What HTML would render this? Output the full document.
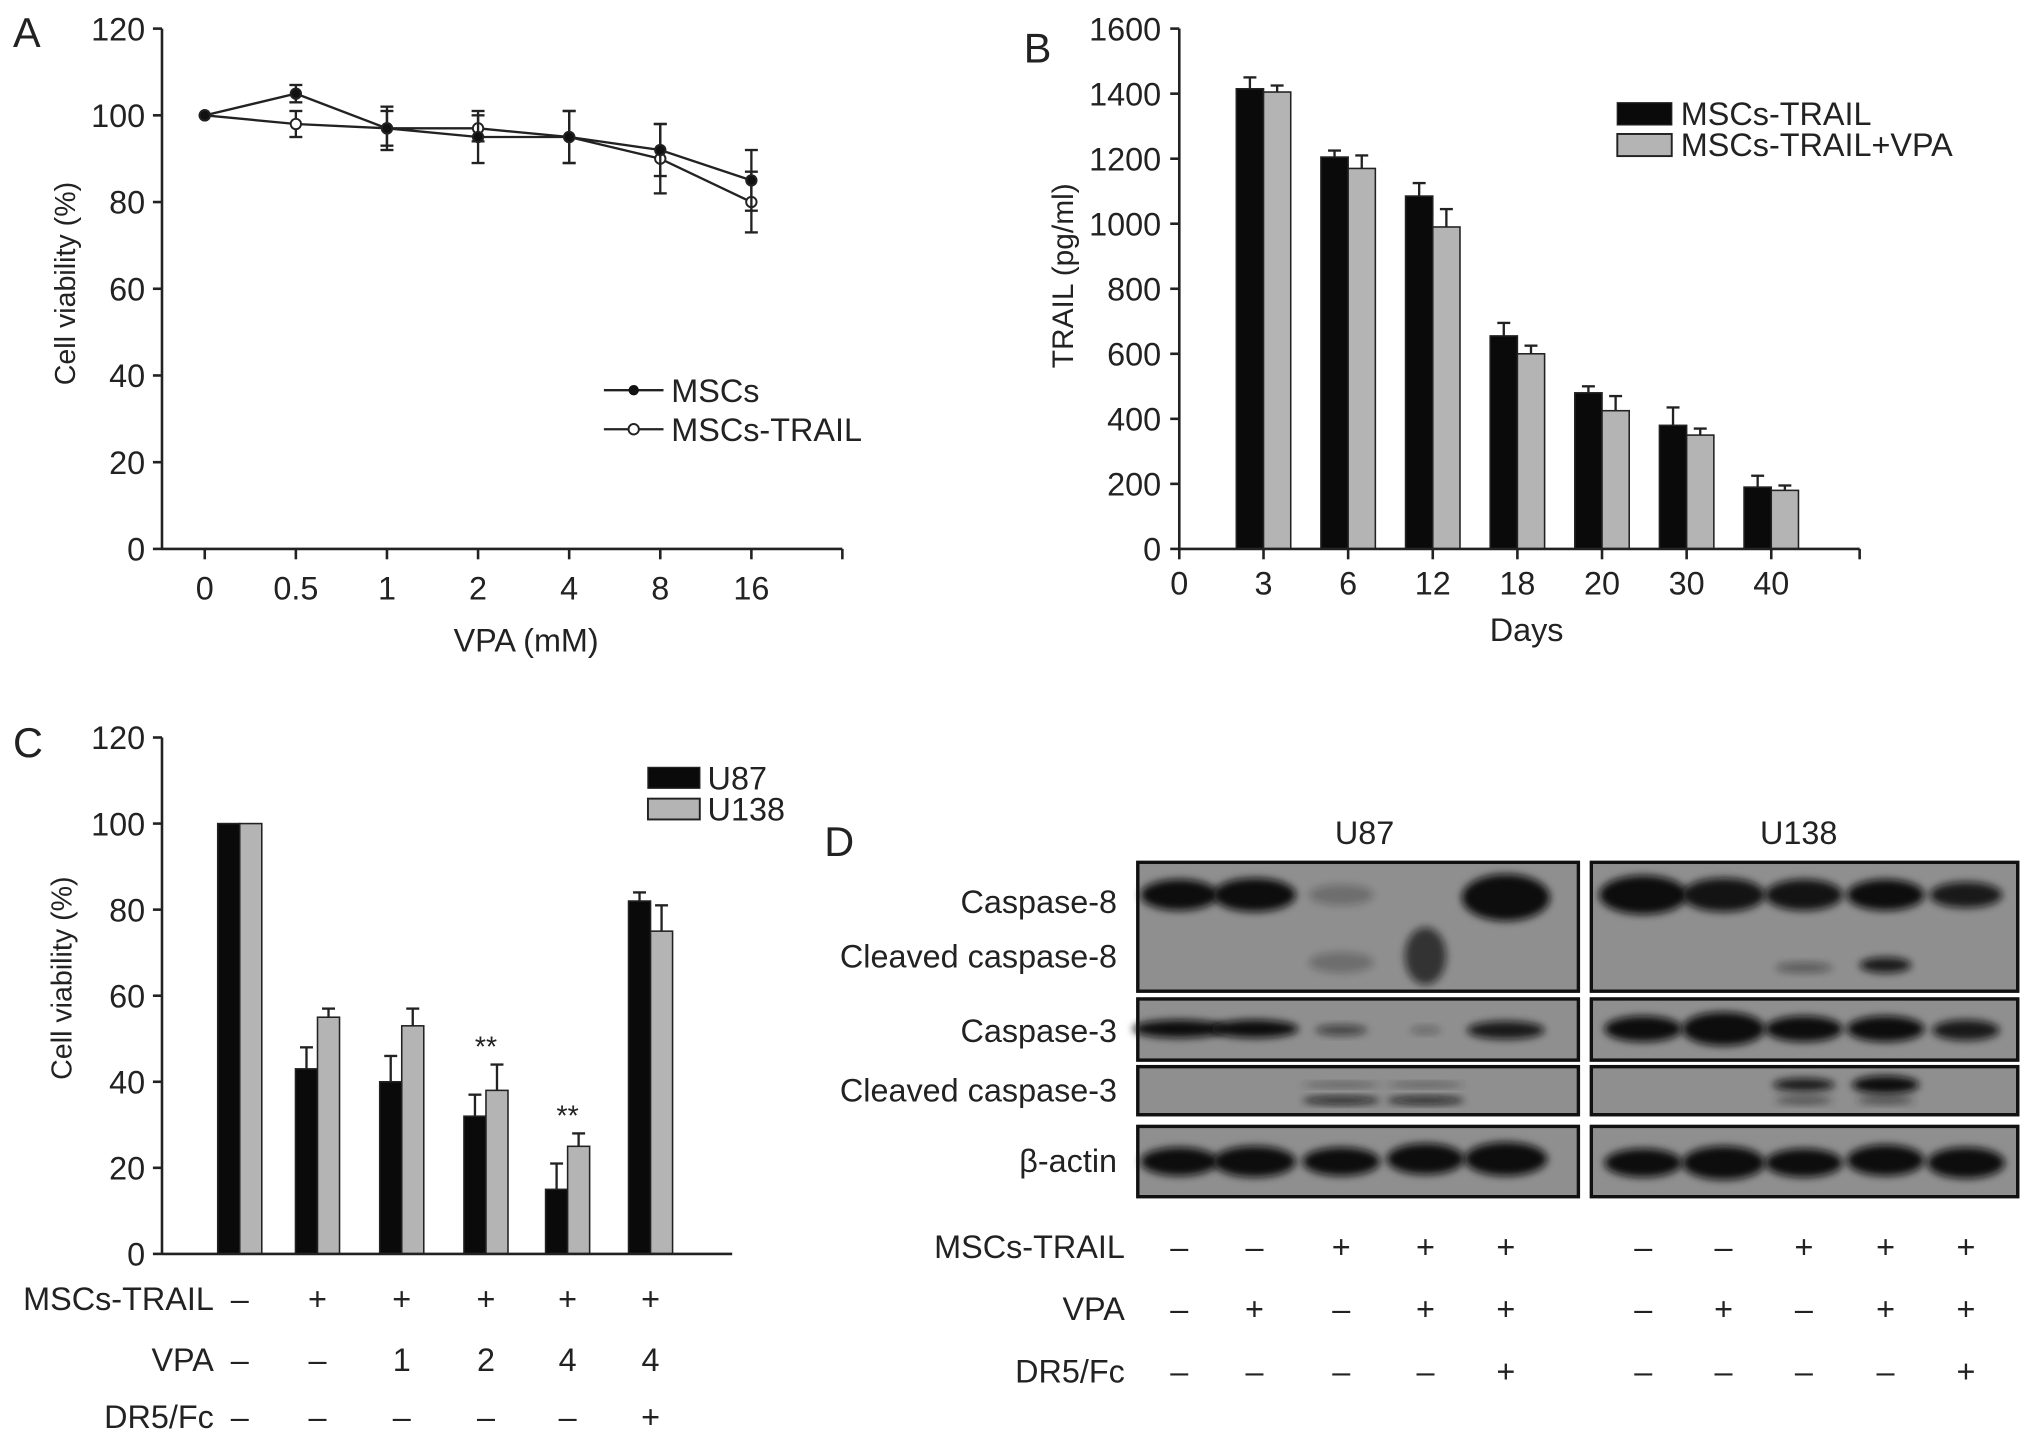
<!DOCTYPE html>
<html><head><meta charset="utf-8"><style>
html,body{margin:0;padding:0;background:#fff;}
svg{display:block;font-family:"Liberation Sans",sans-serif;}
text{fill:#222;}
</style></head><body>
<svg id="fig" width="2032" height="1436" viewBox="0 0 1568 1104" preserveAspectRatio="none" xmlns="http://www.w3.org/2000/svg">
<defs>
<filter id="blur" x="-20%" y="-50%" width="140%" height="200%"><feGaussianBlur stdDeviation="3"/></filter>
</defs>
<g id="A"></g>
<g id="B"></g>
<g id="C"></g>
<g id="D"></g>
</svg>
<script>
// Panel A data
const aCategories = ["0","0.5","1","2","4","8","16"];
const aMSCs = [100,105,97,95,95,92,85];
const aMSCsErr = [0,2,5,6,6,6,7];
const aTRAIL = [100,98,97,97,95,90,80];
const aTRAILErr = [0,3,4,3,6,8,7];
const aYTicks = [0,20,40,60,80,100,120];
// Panel B data
const bCategories = ["3","6","12","18","20","30","40"];
const bTrail = [1415,1205,1085,655,480,380,190];
const bTrailErr = [35,20,40,40,20,55,35];
const bVPA = [1405,1170,990,600,425,350,180];
const bVPAErr = [20,40,55,25,45,20,15];
const bYTicks = [0,200,400,600,800,1000,1200,1400,1600];
// Panel C data
const cU87 = [100,43,40,32,15,82];
const cU87Err = [0,5,6,5,6,2];
const cU138 = [100,55,53,38,25,75];
const cU138Err = [0,2,4,6,3,6];
const cYTicks = [0,20,40,60,80,100,120];
const cTrail = ["–","+","+","+","+","+"];
const cVPA = ["–","–","1","2","4","4"];
const cDR5 = ["–","–","–","–","–","+"];
const cStars = ["","","","**","**",""];
// Panel D labels
const dTrail = ["–","–","+","+","+"];
const dVPA = ["–","+","–","+","+"];
const dDR5 = ["–","–","–","–","+"];

const FS=25;
const NS="http://www.w3.org/2000/svg";
function el(parent,tag,attrs,text){const e=document.createElementNS(NS,tag);for(const k in attrs)e.setAttribute(k,attrs[k]);if(text!==undefined)e.textContent=text;parent.appendChild(e);return e;}

// ---------- Panel A ----------
(function(){
const g=document.getElementById('A');
const x0=125,x1=650,y0=422,y1=22;
const ys=v=>y0-(v/120)*(y0-y1);
const xs=i=>158+i*70.3;
let t=el(g,'text',{x:10,y:36,'font-size':32});t.textContent='A';

el(g,'line',{x1:x0,y1:y1,x2:x0,y2:y0,stroke:'#222','stroke-width':2});
el(g,'line',{x1:x0,y1:y0,x2:x1,y2:y0,stroke:'#222','stroke-width':2});
el(g,'line',{x1:x1,y1:y0,x2:x1,y2:y0+8,stroke:'#222','stroke-width':2});
aYTicks.forEach(v=>{el(g,'line',{x1:x0-7,y1:ys(v),x2:x0,y2:ys(v),stroke:'#222','stroke-width':2});
 const l=el(g,'text',{x:112,y:ys(v)+9,'font-size':FS,'text-anchor':'end'},v);
 });
aCategories.forEach((c,i)=>{el(g,'line',{x1:xs(i),y1:y0,x2:xs(i),y2:y0+8,stroke:'#222','stroke-width':2});
 const l=el(g,'text',{x:xs(i),y:461,'font-size':FS,'text-anchor':'middle'},c);
 });
let xt=el(g,'text',{x:406,y:501,'font-size':FS,'text-anchor':'middle'},'VPA (mM)');

let yt=el(g,'text',{x:0,y:0,'font-size':22,'text-anchor':'middle',transform:'translate(58,218) rotate(-90)'},'Cell viability (%)');

function series(vals,errs,filled,name){
 const s=el(g,'g',{});
 el(s,'polyline',{points:vals.map((v,i)=>xs(i)+','+ys(v)).join(' '),fill:'none',stroke:'#222','stroke-width':1.8});
 vals.forEach((v,i)=>{const e=errs[i];if(e>0){el(s,'line',{x1:xs(i),y1:ys(v-e),x2:xs(i),y2:ys(v+e),stroke:'#222','stroke-width':1.8});
  [v-e,v+e].forEach(w=>el(s,'line',{x1:xs(i)-5,y1:ys(w),x2:xs(i)+5,y2:ys(w),stroke:'#222','stroke-width':1.8}));}
  const p=el(s,'circle',{cx:xs(i),cy:ys(v),r:4,fill:filled?'#111':'#fff',stroke:'#222','stroke-width':1.5});
  });
}
series(aTRAIL,aTRAILErr,false,'series-mscs-trail');
series(aMSCs,aMSCsErr,true,'series-mscs');
const lg=el(g,'g',{});
el(lg,'line',{x1:466,y1:300,x2:512,y2:300,stroke:'#222','stroke-width':1.8});
el(lg,'circle',{cx:489,cy:300,r:4,fill:'#111'});
el(lg,'text',{x:518,y:309,'font-size':FS},'MSCs');
el(lg,'line',{x1:466,y1:330,x2:512,y2:330,stroke:'#222','stroke-width':1.8});
el(lg,'circle',{cx:489,cy:330,r:4,fill:'#fff',stroke:'#222','stroke-width':1.5});
el(lg,'text',{x:518,y:339,'font-size':FS},'MSCs-TRAIL');
})();

// ---------- Panel B ----------
(function(){
const g=document.getElementById('B');
const x0=910,x1=1435,y0=422,y1=22;
const ys=v=>y0-(v/1600)*(y0-y1);
const xs=i=>975+i*65.3;
const bw=21;
let t=el(g,'text',{x:790,y:48,'font-size':32},'B');

el(g,'line',{x1:x0,y1:y1,x2:x0,y2:y0,stroke:'#222','stroke-width':2});
bYTicks.forEach(v=>{el(g,'line',{x1:x0-7,y1:ys(v),x2:x0,y2:ys(v),stroke:'#222','stroke-width':2});
 const l=el(g,'text',{x:896,y:ys(v)+9,'font-size':FS,'text-anchor':'end'},v);
 });
const l0=el(g,'text',{x:x0,y:457,'font-size':FS,'text-anchor':'middle'},'0');

el(g,'line',{x1:x0,y1:y0,x2:x0,y2:y0+8,stroke:'#222','stroke-width':2});
el(g,'line',{x1:x1,y1:y0,x2:x1,y2:y0+8,stroke:'#222','stroke-width':2});
function bars(vals,errs,off,fill,name){
 vals.forEach((v,i)=>{const x=xs(i)+off;
  const r=el(g,'rect',{x:x,y:ys(v),width:bw,height:y0-ys(v),fill:fill,stroke:'#222','stroke-width':1.2});
  
  const cx=x+bw/2;el(g,'line',{x1:cx,y1:ys(v),x2:cx,y2:ys(v+errs[i]),stroke:'#222','stroke-width':1.8});
  el(g,'line',{x1:cx-5,y1:ys(v+errs[i]),x2:cx+5,y2:ys(v+errs[i]),stroke:'#222','stroke-width':1.8});});
}
bars(bTrail,bTrailErr,-bw,'#0a0a0a','bar-mscs-trail');
bars(bVPA,bVPAErr,0,'#b4b4b4','bar-mscs-trail-vpa');
el(g,'line',{x1:x0,y1:y0,x2:x1,y2:y0,stroke:'#222','stroke-width':2});
bCategories.forEach((c,i)=>{el(g,'line',{x1:xs(i),y1:y0,x2:xs(i),y2:y0+8,stroke:'#222','stroke-width':2});
 const l=el(g,'text',{x:xs(i),y:457,'font-size':FS,'text-anchor':'middle'},c);
 });
let xt=el(g,'text',{x:1178,y:493,'font-size':FS,'text-anchor':'middle'},'Days');

let yt=el(g,'text',{x:0,y:0,'font-size':23,'text-anchor':'middle',transform:'translate(828,212) rotate(-90)'},'TRAIL (pg/ml)');

const lg=el(g,'g',{});
el(lg,'rect',{x:1248,y:79,width:42,height:17,fill:'#0a0a0a',stroke:'#222'});
el(lg,'text',{x:1297,y:96,'font-size':FS},'MSCs-TRAIL');
el(lg,'rect',{x:1248,y:103,width:42,height:17,fill:'#b4b4b4',stroke:'#222','stroke-width':1.5});
el(lg,'text',{x:1297,y:120,'font-size':FS},'MSCs-TRAIL+VPA');
})();

// ---------- Panel C ----------
(function(){
const g=document.getElementById('C');
const x0=125,x1=565,y0=964,y1=567;
const ys=v=>y0-(v/120)*(y0-y1);
const xs=i=>[185,245,310,375,438,502][i];
const bw=17;
let t=el(g,'text',{x:10,y:582,'font-size':32},'C');

el(g,'line',{x1:x0,y1:y1,x2:x0,y2:y0,stroke:'#222','stroke-width':2});
cYTicks.forEach(v=>{el(g,'line',{x1:x0-7,y1:ys(v),x2:x0,y2:ys(v),stroke:'#222','stroke-width':2});
 const l=el(g,'text',{x:112,y:ys(v)+9,'font-size':FS,'text-anchor':'end'},v);
 });
function bars(vals,errs,off,fill,name){
 vals.forEach((v,i)=>{const x=xs(i)+off;
  const r=el(g,'rect',{x:x,y:ys(v),width:bw,height:y0-ys(v),fill:fill,stroke:'#222','stroke-width':1.2});
  
  if(errs[i]>0){const cx=x+bw/2;el(g,'line',{x1:cx,y1:ys(v),x2:cx,y2:ys(v+errs[i]),stroke:'#222','stroke-width':1.8});
  el(g,'line',{x1:cx-5,y1:ys(v+errs[i]),x2:cx+5,y2:ys(v+errs[i]),stroke:'#222','stroke-width':1.8});}});
}
bars(cU87,cU87Err,-bw,'#0a0a0a','bar-u87');
bars(cU138,cU138Err,0,'#b4b4b4','bar-u138');
el(g,'line',{x1:x0,y1:y0,x2:x1,y2:y0,stroke:'#222','stroke-width':2});
cStars.forEach((s,i)=>{if(s){const v=Math.max(cU87[i]+cU87Err[i],cU138[i]+cU138Err[i]);
 const l=el(g,'text',{x:xs(i),y:ys(v)-6,'font-size':22,'text-anchor':'middle'},s);
 }});
let yt=el(g,'text',{x:0,y:0,'font-size':22,'text-anchor':'middle',transform:'translate(55,752) rotate(-90)'},'Cell viability (%)');

const lg=el(g,'g',{});
el(lg,'rect',{x:500,y:590,width:40,height:16,fill:'#0a0a0a',stroke:'#222'});
el(lg,'text',{x:546,y:607,'font-size':FS},'U87');
el(lg,'rect',{x:500,y:614,width:40,height:16,fill:'#b4b4b4',stroke:'#222','stroke-width':1.5});
el(lg,'text',{x:546,y:631,'font-size':FS},'U138');
const rows=[['MSCs-TRAIL',cTrail,1007],['VPA',cVPA,1054],['DR5/Fc',cDR5,1098]];
rows.forEach(([lab,arr,y])=>{
 const l=el(g,'text',{x:165,y:y,'font-size':FS,'text-anchor':'end'},lab);
 
 arr.forEach((s,i)=>{const c=el(g,'text',{x:xs(i),y:y,'font-size':FS,'text-anchor':'middle'},s);
  });});
})();

// ---------- Panel D ----------
(function(){
const g=document.getElementById('D');
let t=el(g,'text',{x:636,y:658,'font-size':32},'D');

const u1=el(g,'text',{x:1053,y:649,'font-size':FS,'text-anchor':'middle'},'U87');

const u2=el(g,'text',{x:1388,y:649,'font-size':FS,'text-anchor':'middle'},'U138');

const panels=[{x:878,w:340,lanes:[910,968,1035,1100,1162]},{x:1228,w:329,lanes:[1268,1330,1392,1455,1517]}];
const boxes=[[663,99],[768,47],[820,37],[866,54]];
const bands=[
 [[[688,1,30,12],[688,1,32,13],[688,.25,25,8],[0,0,0,0],[690,1,34,18]],
  [[0,0,0,0],[0,0,0,0],[740,.25,25,8],[735,.7,16,22],[0,0,0,0]],
  [[791,1,36,7],[791,1,34,7],[792,.6,20,4],[792,.3,12,3],[792,.9,30,7]],
  [[0,0,0,0],[0,0,0,0],[846,.85,30,3],[846,.85,30,3],[0,0,0,0]],
  [[893,1,30,11],[893,1,32,12],[893,1,30,11],[891,1,30,12],[891,1,32,13]]],
 [[[688,1,34,15],[688,.95,32,13],[688,.95,30,12],[688,1,30,12],[688,.9,28,10]],
  [[0,0,0,0],[0,0,0,0],[744,.4,22,4],[742,.9,20,6],[0,0,0,0]],
  [[791,1,30,10],[791,1,32,13],[791,1,30,10],[791,1,30,10],[792,.9,26,8]],
  [[0,0,0,0],[0,0,0,0],[834,.9,24,5],[834,1,26,7],[0,0,0,0]],
  [[894,1,30,11],[894,1,32,13],[894,1,30,11],[892,1,30,12],[894,1,30,12]]]];
panels.forEach((p,pi)=>{
 boxes.forEach(([by,bh],bi)=>{
  const b=el(g,'rect',{x:p.x,y:by,width:p.w,height:bh,fill:'#8f8f8f',stroke:'#111','stroke-width':2.5});
  });
 bands[pi].forEach(row=>row.forEach((bd,li)=>{if(bd[1]>0){
  const e=el(g,'ellipse',{cx:p.lanes[li],cy:bd[0],rx:bd[2],ry:bd[3],fill:'#0c0c0c',opacity:bd[1],filter:'url(#blur)'});
  }}));
 if(pi===0){[1035,1100].forEach(x=>el(g,'ellipse',{cx:x,cy:834,rx:30,ry:2,fill:'#222',opacity:.5,filter:'url(#blur)'}));}
 else{[1392,1455].forEach(x=>el(g,'ellipse',{cx:x,cy:846,rx:22,ry:3,fill:'#222',opacity:.6,filter:'url(#blur)'}));}
 boxes.forEach(([by,bh])=>el(g,'rect',{x:p.x,y:by,width:p.w,height:bh,fill:'none',stroke:'#111','stroke-width':2.5}));
});
const labs=[['Caspase-8',702],['Cleaved caspase-8',744],['Caspase-3',801],['Cleaved caspase-3',847],['β-actin',901]];
labs.forEach(([s,y])=>{const l=el(g,'text',{x:862,y:y,'font-size':FS,'text-anchor':'end'},s);
 });
const rows=[['MSCs-TRAIL',dTrail,967],['VPA',dVPA,1015],['DR5/Fc',dDR5,1063]];
rows.forEach(([lab,arr,y])=>{
 const l=el(g,'text',{x:868,y:y,'font-size':FS,'text-anchor':'end'},lab);
 
 panels.forEach(p=>arr.forEach((s,i)=>{const c=el(g,'text',{x:p.lanes[i],y:y,'font-size':FS,'text-anchor':'middle'},s);
  }));});
})();
</script>
</body></html>
